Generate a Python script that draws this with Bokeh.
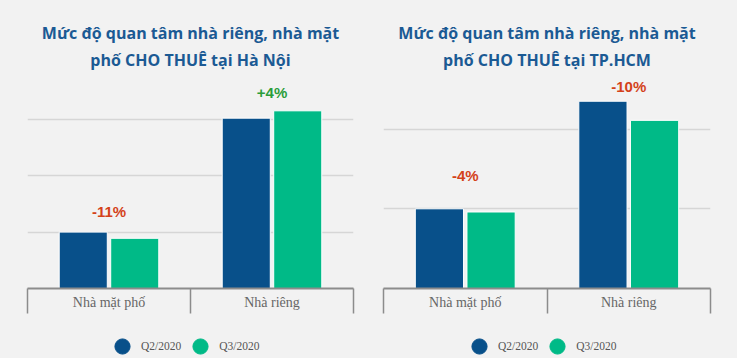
from bokeh.plotting import figure
from bokeh.models import (Range1d, LinearAxis, FixedTicker, Grid, Legend,
                          LegendItem, ColumnDataSource)
from bokeh.layouts import row, column
from bokeh.embed import file_html
from bokeh.resources import INLINE
from bokeh.core.properties import value

# ---------------- data ----------------
categories = ["Nhà mặt phố", "Nhà riêng"]
series_names = ["Q2/2020", "Q3/2020"]

hn_title = ["Mức độ quan tâm nhà riêng, nhà mặt", "phố CHO THUÊ tại Hà Nội"]
hn_q2 = [100, 302]
hn_q3 = [89, 315]
hn_labels = ["-11%", "+4%"]
hn_grid = [100, 200, 300]

hcm_title = ["Mức độ quan tâm nhà riêng, nhà mặt", "phố CHO THUÊ tại TP.HCM"]
hcm_q2 = [100, 235]
hcm_q3 = [96, 211]
hcm_labels = ["-4%", "-10%"]
hcm_grid = [100, 200]

# ---------------- styles ----------------
BG = "#f2f2f2"
BLUE = "#08508a"
GREEN = "#00ba87"
NEG = "#d4421a"
POS = "#2a9d3a"
TITLE_COLOR = "#1b5a94"
AXIS_COLOR = "#8c8c8c"
GRID_COLOR = "#d6d6d6"

BAR_W = 0.295
DODGE = 0.158
NAN = float("nan")
TITLE_BASELINES = [32, 59]   # px below the top of the plot area


def style_fig(p):
    p.background_fill_color = BG
    p.border_fill_color = BG
    p.outline_line_color = None
    for g in p.xgrid + p.ygrid:
        g.visible = False


def make_panel(title_lines, q2, q3, labels, grid_ticks, y_max, width, bl, br,
               label_offsets, leg_x):
    n = len(categories)
    p = figure(width=width, height=320, output_backend="svg", toolbar_location=None,
               x_range=Range1d(0, n), y_range=Range1d(0, y_max),
               x_axis_location=None, y_axis_location=None,
               min_border_left=bl, min_border_right=br,
               min_border_top=0, min_border_bottom=32)
    style_fig(p)

    # two-line centred title, drawn at the top of the plot area
    tsrc = ColumnDataSource(dict(x=[n / 2] * len(title_lines), y=[y_max] * len(title_lines),
                                 t=title_lines, off=TITLE_BASELINES))
    p.text(x="x", y="y", text="t", y_offset="off", source=tsrc,
           text_align="center", text_baseline="alphabetic",
           text_font=value("Open Sans"), text_font_style="bold",
           text_font_size="16px", text_color=TITLE_COLOR)

    p.add_layout(Grid(dimension=1, ticker=FixedTicker(ticks=grid_ticks),
                      grid_line_color=GRID_COLOR, grid_line_width=1.5))

    centers = [i + 0.5 for i in range(n)]
    src = ColumnDataSource(dict(
        x2=[c - DODGE for c in centers], x3=[c + DODGE for c in centers],
        q2=q2, q3=q3))
    p.vbar(x="x2", top="q2", width=BAR_W, source=src, fill_color=BLUE,
           line_color="white", line_width=1)
    p.vbar(x="x3", top="q3", width=BAR_W, source=src, fill_color=GREEN,
           line_color="white", line_width=1)

    lab = ColumnDataSource(dict(
        x=centers, y=[max(a, b) for a, b in zip(q2, q3)], t=labels,
        c=[POS if b >= a else NEG for a, b in zip(q2, q3)],
        off=label_offsets))
    p.text(x="x", y="y", text="t", text_color="c", y_offset="off", source=lab,
           text_align="center", text_baseline="middle",
           text_font_size="15px", text_font_style="bold",
           text_font=value("Liberation Sans"))

    ax = LinearAxis(ticker=FixedTicker(ticks=centers, minor_ticks=list(range(n + 1))),
                    major_label_overrides={c: cat for c, cat in zip(centers, categories)},
                    axis_line_color=AXIS_COLOR, axis_line_width=2,
                    major_tick_out=0, major_tick_in=0,
                    minor_tick_out=25, minor_tick_in=0,
                    minor_tick_line_color=AXIS_COLOR, minor_tick_line_width=1.5,
                    major_label_standoff=-19,
                    major_label_text_font="Liberation Serif",
                    major_label_text_font_size="14px",
                    major_label_text_color="#666666")
    p.add_layout(ax, "below")

    # legend strip
    lf = figure(width=width, height=38, output_backend="svg", toolbar_location=None,
                x_range=Range1d(0, 1), y_range=Range1d(0, 1),
                x_axis_location=None, y_axis_location=None,
                min_border_left=0, min_border_right=0,
                min_border_top=13, min_border_bottom=0)
    style_fig(lf)
    r2 = lf.scatter(x=[NAN], y=[NAN], marker="circle", size=15,
                    fill_color=BLUE, line_color=BLUE)
    r3 = lf.scatter(x=[NAN], y=[NAN], marker="circle", size=15,
                    fill_color=GREEN, line_color=GREEN)
    legend = Legend(items=[LegendItem(label=series_names[0], renderers=[r2]),
                           LegendItem(label=series_names[1], renderers=[r3])],
                    orientation="horizontal", location=(leg_x, -7),
                    glyph_width=38, glyph_height=38, label_standoff=0, spacing=0,
                    padding=0, margin=0, border_line_color=None,
                    background_fill_alpha=0, label_text_font="Liberation Serif",
                    label_text_font_size="11.5px", label_text_color="#555555")
    lf.add_layout(legend)
    return column(p, lf, spacing=0)


# y_max chosen so the plot area runs from the top of the canvas to the axis
c1 = make_panel(hn_title, hn_q2, hn_q3, hn_labels, hn_grid, 510.6, 368, 27, 15,
                [-21, -18], 76)
c2 = make_panel(hcm_title, hcm_q2, hcm_q3, hcm_labels, hcm_grid, 361.4, 369, 15, 27,
                [-33, -15], 77)

layout = row(c1, c2, spacing=0)
html = file_html(layout, INLINE)
html = html.replace("<body>", '<body style="background-color:#f2f2f2;">')
open("out.html", "w").write(html)
